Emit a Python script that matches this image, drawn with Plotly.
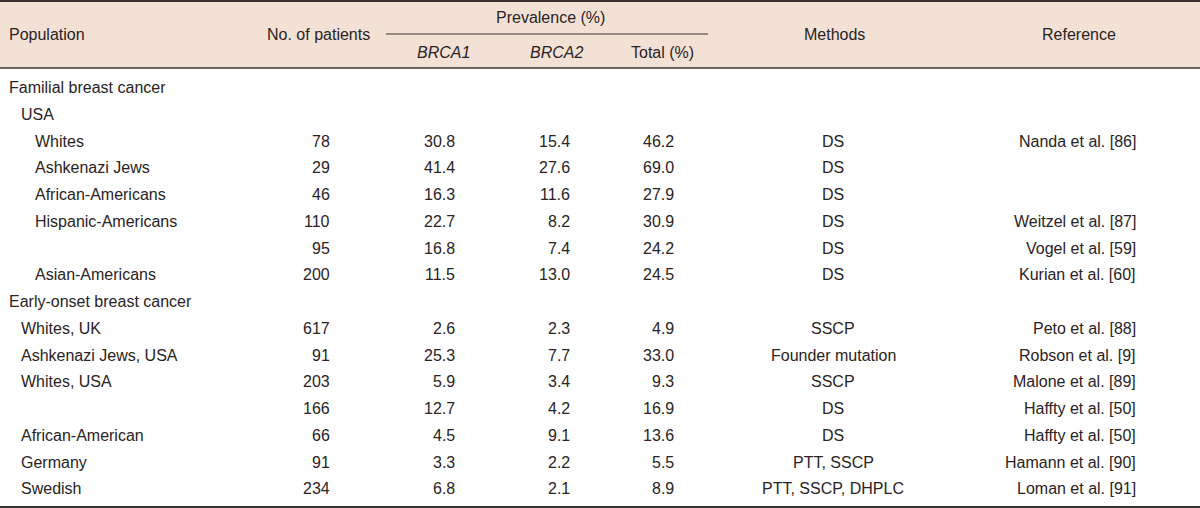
import plotly.graph_objects as go

# ---- data ----
populations = ["Familial breast cancer", "USA", "Whites", "Ashkenazi Jews", "African-Americans",
               "Hispanic-Americans", "", "Asian-Americans", "Early-onset breast cancer",
               "Whites, UK", "Ashkenazi Jews, USA", "Whites, USA", "", "African-American",
               "Germany", "Swedish"]
levels = [0, 1, 2, 2, 2, 2, 2, 2, 0, 1, 1, 1, 1, 1, 1, 1]
patients = [None, None, 78, 29, 46, 110, 95, 200, None, 617, 91, 203, 166, 66, 91, 234]
brca1 = [None, None, 30.8, 41.4, 16.3, 22.7, 16.8, 11.5, None, 2.6, 25.3, 5.9, 12.7, 4.5, 3.3, 6.8]
brca2 = [None, None, 15.4, 27.6, 11.6, 8.2, 7.4, 13.0, None, 2.3, 7.7, 3.4, 4.2, 9.1, 2.2, 2.1]
total = [None, None, 46.2, 69.0, 27.9, 30.9, 24.2, 24.5, None, 4.9, 33.0, 9.3, 16.9, 13.6, 5.5, 8.9]
methods = ["", "", "DS", "DS", "DS", "DS", "DS", "DS", "", "SSCP", "Founder mutation", "SSCP",
           "DS", "DS", "PTT, SSCP", "PTT, SSCP, DHPLC"]
references = ["", "", "Nanda et al. [86]", "", "", "Weitzel et al. [87]", "Vogel et al. [59]",
              "Kurian et al. [60]", "", "Peto et al. [88]", "Robson et al. [9]", "Malone et al. [89]",
              "Haffty et al. [50]", "Haffty et al. [50]", "Hamann et al. [90]", "Loman et al. [91]"]
header_cols = ["Population", "No. of patients", "Prevalence (%)", "BRCA1", "BRCA2", "Total (%)",
               "Methods", "Reference"]

# ---- style ----
FONT = "Liberation Sans, Arial, sans-serif"
TXT = "#2a2324"
FS = 16
HEAD_BG = "#f3e1d6"
LINE = "#3b3030"

W, H = 1200, 508
ROW0, PITCH = 87.5, 26.75
indent_x = {0: 7, 1: 19, 2: 33}
COL_PAT, COL_B1, COL_B2, COL_TOT, COL_METH, COL_REF = 332, 457, 572, 676, 833, 1138

fig = go.Figure()
fig.add_trace(go.Scatter(x=[0, W], y=[0, H], mode="markers", marker=dict(opacity=0),
                         hoverinfo="skip", showlegend=False))

shapes = [
    dict(type="rect", x0=0, x1=W, y0=1, y1=68, fillcolor=HEAD_BG, line_width=0, layer="below"),
    dict(type="line", x0=0, x1=W, y0=1, y1=1, line=dict(color=LINE, width=2)),
    dict(type="line", x0=0, x1=W, y0=68, y1=68, line=dict(color=LINE, width=1.5)),
    dict(type="line", x0=386, x1=708, y0=34, y1=34, line=dict(color=LINE, width=1.2)),
    dict(type="line", x0=0, x1=W, y0=507, y1=507, line=dict(color=LINE, width=2)),
]

ann = []
def add(text, x, y, anchor, italic=False):
    if italic:
        text = "<i>" + text + "</i>"
    ann.append(dict(text=text, x=x, y=y, xref="x", yref="y", xanchor=anchor, yanchor="middle",
                    showarrow=False, font=dict(family=FONT, size=FS, color=TXT)))

# header
add(header_cols[0], 7, 34, "left")
add(header_cols[1], 372, 34, "right")
add(header_cols[2], 550, 17, "center")
add(header_cols[3], 443, 52, "center", italic=True)
add(header_cols[4], 556, 52, "center", italic=True)
add(header_cols[5], 662, 52, "center")
add(header_cols[6], 834, 34, "center")
add(header_cols[7], 1079, 34, "center")

# body
for i, pop in enumerate(populations):
    y = ROW0 + PITCH * i
    if pop:
        add(pop, indent_x[levels[i]], y, "left")
    if patients[i] is not None:
        add(str(patients[i]), COL_PAT, y, "right")
    if brca1[i] is not None:
        add(f"{brca1[i]:.1f}", COL_B1, y, "right")
    if brca2[i] is not None:
        add(f"{brca2[i]:.1f}", COL_B2, y, "right")
    if total[i] is not None:
        add(f"{total[i]:.1f}", COL_TOT, y, "right")
    if methods[i]:
        add(methods[i], COL_METH, y, "center")
    if references[i]:
        add(references[i], COL_REF, y, "right")

fig.update_layout(
    width=W, height=H, margin=dict(l=0, r=0, t=0, b=0),
    paper_bgcolor="white", plot_bgcolor="white",
    xaxis=dict(range=[0, W], visible=False, fixedrange=True),
    yaxis=dict(range=[H, 0], visible=False, fixedrange=True),
    shapes=shapes, annotations=ann, showlegend=False,
)
fig.write_html("out.html", config={"displayModeBar": False},
               post_script="document.body.style.margin='0';document.body.style.overflow='hidden';")
